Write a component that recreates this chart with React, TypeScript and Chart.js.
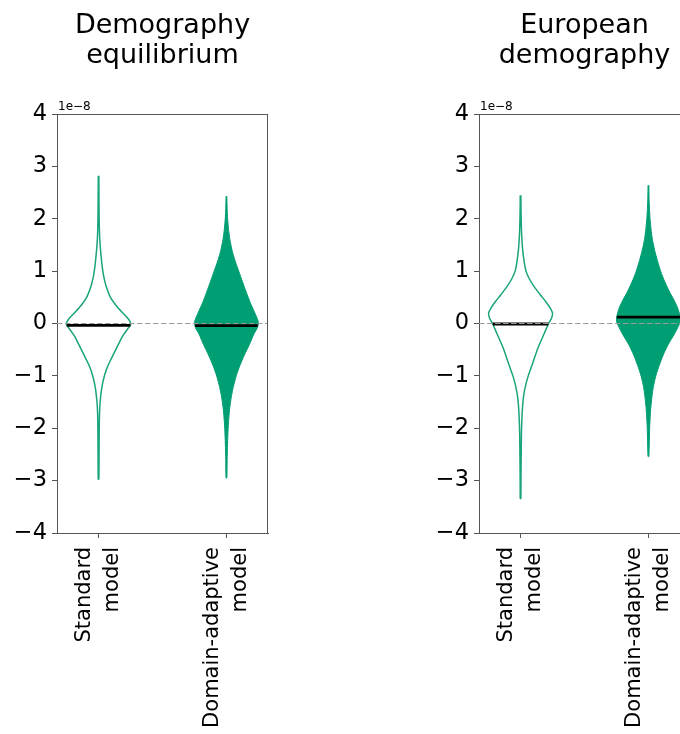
import React, { useEffect, useRef } from 'react';
import { Chart, registerables } from 'chart.js';

Chart.register(...registerables);

// ---------- data (values in units of 1e-8) ----------
const CATEGORIES = [['Standard', 'model'], ['Domain-adaptive', 'model']];
const CATEGORY_POS = [0, 1];
const Y_TICKS = [-4, -3, -2, -1, 0, 1, 2, 3, 4];
const OFFSET_LABEL = '1e\u22128';
const TITLE_EQ = ['Demography', 'equilibrium'];
const TITLE_EU = ['European', 'demography'];

// Demography equilibrium – standard model (violin outline): y levels and relative density
const EQ_STD_Y = [2.82, 2.4, 2.0, 1.7, 1.5, 1.3, 1.1, 0.9, 0.7, 0.5, 0.35, 0.2, 0.1, 0.03, -0.03, -0.1, -0.25, -0.4, -0.57, -0.75, -0.9, -1.05, -1.2, -1.35, -1.5, -1.7, -2.0, -2.5, -2.97];
const EQ_STD_D = [0.3, 0.4, 0.6, 1.0, 1.6, 2.5, 3.6, 5.2, 7.8, 12, 17.5, 24.5, 29.5, 32, 32.3, 29.5, 24, 20, 15.5, 10.8, 7.5, 5.2, 3.5, 2.4, 1.6, 1.0, 0.7, 0.5, 0.3];
const EQ_STD_MEDIAN = -0.035;

// Demography equilibrium – domain-adaptive model (filled violin)
const EQ_DOM_Y = [2.43, 2.2, 2.0, 1.8, 1.6, 1.4, 1.2, 1.0, 0.8, 0.6, 0.4, 0.25, 0.12, 0.02, -0.08, -0.2, -0.4, -0.6, -0.8, -1.0, -1.2, -1.4, -1.6, -1.8, -2.0, -2.3, -2.6, -2.95];
const EQ_DOM_D = [0.4, 0.7, 1.2, 2.1, 3.5, 5.6, 8.6, 12.3, 16, 19.8, 23.8, 27.3, 30.3, 32, 31, 27.5, 23, 18, 13.5, 9.8, 7, 4.9, 3.4, 2.4, 1.7, 1.1, 0.7, 0.4];
const EQ_DOM_MEDIAN = -0.04;

// European demography – standard model (violin outline)
const EU_STD_Y = [2.45, 2.1, 1.8, 1.6, 1.4, 1.2, 1.0, 0.85, 0.7, 0.55, 0.42, 0.3, 0.2, 0.1, 0.0, -0.15, -0.3, -0.5, -0.75, -1.0, -1.2, -1.4, -1.6, -1.8, -2.1, -2.6, -3.0, -3.34];
const EU_STD_D = [0.3, 0.5, 0.9, 1.4, 2.2, 3.5, 5.5, 9, 14, 20, 25.5, 30, 32.5, 31.5, 28.5, 25, 21.5, 17, 12.5, 7.8, 4.9, 3, 2, 1.4, 0.9, 0.6, 0.4, 0.3];
const EU_STD_MEDIAN = -0.01;

// European demography – domain-adaptive model (filled violin)
const EU_DOM_Y = [2.64, 2.4, 2.2, 2.0, 1.8, 1.6, 1.4, 1.2, 1.0, 0.8, 0.6, 0.45, 0.3, 0.15, 0.05, -0.05, -0.2, -0.4, -0.6, -0.8, -1.0, -1.2, -1.4, -1.6, -1.8, -2.0, -2.3, -2.54];
const EU_DOM_D = [0.4, 0.6, 1.0, 1.6, 2.6, 4.0, 6.2, 9, 12.2, 16.3, 21.2, 25.5, 29.2, 31.5, 32, 30, 26, 19.8, 14.8, 10.8, 7.4, 5, 3.5, 2.4, 1.7, 1.2, 0.8, 0.4];
const EU_DOM_MEDIAN = 0.12;

// ---------- styling ----------
const FONT = 'DejaVu Sans';
const GREEN = '#009E73';
const OUTLINE = '#1aa47c';
const AXIS_COLOR = '#555555';
const X_MIN = -0.325;
const X_MAX = 1.325;
const HALF_WIDTH = 0.25;

function norm(ds: number[]) {
  const m = Math.max(...ds);
  return ds.map((d) => d / m);
}

function violinPoints(pos: number, ys: number[], raw: number[]) {
  const ds = norm(raw);
  const right = ys.map((y, i) => ({ x: pos + ds[i] * HALF_WIDTH, y }));
  const left = ys.map((y, i) => ({ x: pos - ds[i] * HALF_WIDTH, y })).reverse();
  return right.concat(left);
}

function densityAt(ys: number[], raw: number[], v: number) {
  const ds = norm(raw);
  for (let i = 0; i < ys.length - 1; i++) {
    const a = ys[i], b = ys[i + 1];
    if ((v <= a && v >= b) || (v >= a && v <= b)) {
      const t = a === b ? 0 : (v - a) / (b - a);
      return ds[i] + t * (ds[i + 1] - ds[i]);
    }
  }
  return 0;
}

function medianPoints(pos: number, ys: number[], ds: number[], m: number) {
  const hw = densityAt(ys, ds, m) * HALF_WIDTH;
  return [{ x: pos - hw, y: m }, { x: pos + hw, y: m }];
}

const framePlugin = {
  id: 'frameAndOffset',
  afterDraw(chart: any) {
    const { ctx, chartArea } = chart;
    ctx.save();
    ctx.strokeStyle = AXIS_COLOR;
    ctx.lineWidth = 1;
    ctx.beginPath();
    ctx.moveTo(chartArea.left, Math.round(chartArea.top) + 0.5);
    ctx.lineTo(chartArea.right, Math.round(chartArea.top) + 0.5);
    ctx.moveTo(Math.round(chartArea.right) - 0.5, chartArea.top);
    ctx.lineTo(Math.round(chartArea.right) - 0.5, chartArea.bottom);
    ctx.stroke();
    ctx.fillStyle = '#000';
    ctx.font = `12px "${FONT}"`;
    ctx.textAlign = 'left';
    ctx.textBaseline = 'alphabetic';
    ctx.fillText(OFFSET_LABEL, chartArea.left + 1, chartArea.top - 4);
    ctx.restore();
  },
};

type PanelProps = {
  title: string[];
  stdY: number[]; stdD: number[]; stdMed: number;
  domY: number[]; domD: number[]; domMed: number;
  left: number;
};

function Panel(p: PanelProps) {
  const ref = useRef<HTMLCanvasElement | null>(null);
  useEffect(() => {
    if (!ref.current) return;
    const tickGrid = {
      drawOnChartArea: false,
      drawTicks: true,
      tickLength: 5,
      color: AXIS_COLOR,
      lineWidth: 1,
    };
    const chart = new Chart(ref.current, {
      type: 'scatter',
      data: {
        datasets: [
          {
            data: [{ x: X_MIN, y: 0 }, { x: X_MAX, y: 0 }],
            showLine: true, pointRadius: 0, pointHoverRadius: 0,
            borderColor: '#9a9a9a', borderWidth: 1.2, borderDash: [5.5, 2.5], fill: false,
          },
          {
            data: medianPoints(CATEGORY_POS[0], p.stdY, p.stdD, p.stdMed),
            showLine: true, pointRadius: 0, pointHoverRadius: 0,
            borderColor: '#000', borderWidth: 2.8, fill: false,
          },
          {
            data: medianPoints(CATEGORY_POS[1], p.domY, p.domD, p.domMed),
            showLine: true, pointRadius: 0, pointHoverRadius: 0,
            borderColor: '#000', borderWidth: 2.8, fill: false,
          },
          {
            data: violinPoints(CATEGORY_POS[0], p.stdY, p.stdD),
            showLine: true, pointRadius: 0, pointHoverRadius: 0,
            borderColor: OUTLINE, borderWidth: 1.5, fill: false, tension: 0.25,
          },
          {
            data: violinPoints(CATEGORY_POS[1], p.domY, p.domD),
            showLine: true, pointRadius: 0, pointHoverRadius: 0,
            borderColor: GREEN, backgroundColor: GREEN, borderWidth: 1, fill: 'shape', tension: 0.25,
          },
        ],
      } as any,
      options: {
        animation: false,
        responsive: false,
        devicePixelRatio: 1,
        events: [],
        layout: { padding: { left: 0, right: 72, top: 0, bottom: 0 } },
        plugins: {
          legend: { display: false },
          tooltip: { enabled: false },
          title: {
            display: true,
            text: p.title,
            fullSize: false,
            color: '#000',
            font: { family: FONT, size: 27, weight: 'normal', lineHeight: 30 / 27 },
            padding: { top: 11, bottom: 43 },
          },
        },
        scales: {
          x: {
            type: 'linear',
            min: X_MIN,
            max: X_MAX,
            afterBuildTicks: (s: any) => { s.ticks = CATEGORY_POS.map((v) => ({ value: v })); },
            afterFit: (s: any) => { s.height = 201; },
            ticks: {
              autoSkip: false,
              minRotation: 90,
              maxRotation: 90,
              padding: 9,
              labelOffset: -14,
              color: '#000',
              font: { family: FONT, size: 21, lineHeight: 28 / 21 },
              callback: (v: any) => CATEGORIES[Math.round(Number(v))],
            },
            grid: tickGrid,
            border: { display: true, color: AXIS_COLOR, width: 1 },
          },
          y: {
            type: 'linear',
            min: Y_TICKS[0],
            max: Y_TICKS[Y_TICKS.length - 1],
            afterBuildTicks: (s: any) => { s.ticks = Y_TICKS.map((v) => ({ value: v })); },
            afterFit: (s: any) => { s.width = 57; },
            ticks: {
              padding: 5,
              color: '#000',
              font: { family: FONT, size: 22.5 },
              callback: (v: any) => (Number(v) < 0 ? '\u2212' + Math.abs(Number(v)) : String(v)),
            },
            grid: tickGrid,
            border: { display: true, color: AXIS_COLOR, width: 1 },
          },
        },
      } as any,
      plugins: [framePlugin],
    });
    return () => chart.destroy();
  }, []);
  return (
    <div style={{ position: 'absolute', left: p.left, top: 0, width: 340, height: 734 }}>
      <canvas ref={ref} width={340} height={734} style={{ width: 340, height: 734, display: 'block' }} />
    </div>
  );
}

export default function App() {
  return (
    <div style={{ position: 'absolute', left: 0, top: 0, width: 680, height: 734, overflow: 'hidden', background: '#fff' }}>
      <Panel title={TITLE_EQ} stdY={EQ_STD_Y} stdD={EQ_STD_D} stdMed={EQ_STD_MEDIAN}
        domY={EQ_DOM_Y} domD={EQ_DOM_D} domMed={EQ_DOM_MEDIAN} left={0} />
      <Panel title={TITLE_EU} stdY={EU_STD_Y} stdD={EU_STD_D} stdMed={EU_STD_MEDIAN}
        domY={EU_DOM_Y} domD={EU_DOM_D} domMed={EU_DOM_MEDIAN} left={422} />
    </div>
  );
}
